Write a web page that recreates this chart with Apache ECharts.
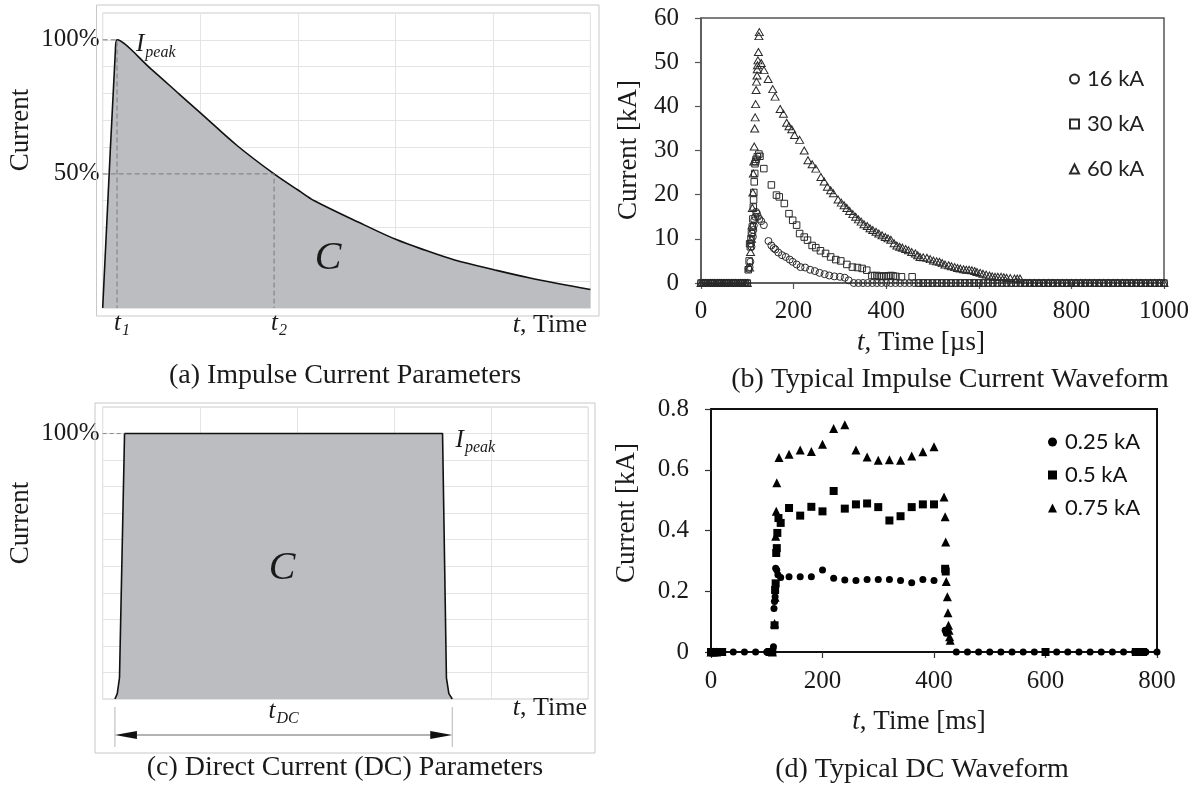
<!DOCTYPE html>
<html><head><meta charset="utf-8">
<script src="https://cdn.jsdelivr.net/npm/echarts@6/dist/echarts.min.js"></script>
<style>html,body{margin:0;padding:0;background:#fff}#c{width:1202px;height:789px}</style>
</head><body><div id="c"></div>
<script>
// ---------------- DATA ----------------
// (a) idealised impulse current shape: [time unit, % of Ipeak]
const impulseShape = [[0,0],[0.13,96],[0.147,100],[0.50,89],[0.79,79.6],[1.01,72.5],[1.38,60.5],[1.757,50],[2.01,43.8],[2.17,40],[2.68,31],[3.01,25.5],[3.31,21.5],[3.6,18],[4.02,14.2],[4.37,11.3],[5,6.9]];
const impulsePeakTime = 0.147;   // t1
const impulseHalfTime = 1.757;   // t2
const impulsePeak = 100, impulseHalf = 50;
// (c) idealised DC shape
const dcShape = [[0.126,0],[0.15,2],[0.173,8],[0.225,100],[3.50,100],[3.54,8],[3.565,2],[3.60,0]];
const dcStart = 0.126, dcEnd = 3.60, dcTopStart = 0.225, dcTopEnd = 3.50;

// (b) measured impulse waveforms [µs, kA]
const preTriggerTimes = [0,5,10,15,20,25,30,35,40,45,50,55,60,65,70,75,80,85,90,95,100];
const imp16 = [[103,3.2],[105,3.6],[106.6,4.8],[108,8.9],[109,8.2],[110.7,11.2],[112,10.5],[113,12],[114,13],[115,14.2],[117,15],[119,16.1],[121,15.7],[123,15],[126,14.5],[130,14],[135.7,13.1],[145.7,9.5],[152,8.5],[157,7.9],[160.7,7.6],[167,6.9],[175,6.3],[183,5.9],[191.5,5.3],[198,4.8],[206.5,4.2],[215,3.6],[225,3.5],[235.6,3],[246,2.7],[256,2.3],[267,2],[277,1.7],[288,1.5],[300,1.4],[310.6,1.2],[319,0.6]];
const imp16ZeroTail = [330,340,350,360,370,380,390,400,410,420,430,440,450,460,470,480,490,500,510,520,530,540,550,560,570,580,590,600,610,620,630,640,650,660,670,680,690,700,710,720,730,740,750,760,770,780,790,800,810,820,830,840,850,860,870,880,890,900,910,920,930,940,950,960,970,980,990,1000];
const imp30 = [[102,3],[104,5],[105,8.9],[106.6,8.2],[108,10],[109,11.2],[110.7,12.7],[112,14.5],[113,17.2],[113.5,18.8],[114,20.5],[115,22.9],[116,24.8],[116.6,27],[118,27.5],[119,28],[121.6,28.6],[125,29.2],[127.4,28.7],[135.7,25.9],[152,22.2],[163,19.9],[169,19.5],[180,18],[190,15.7],[198,14.2],[206.5,13.1],[213,11.2],[223,10.4],[230,9.7],[240,8.5],[248,8],[258,7.3],[269,6.7],[280,5.9],[291,5.3],[302,5],[315,4.2],[327,3.6],[338,3.5],[348,3.3],[358,2.9],[369,1.7],[375,1.6],[380,1.7],[385,1.5],[390,1.5],[395,1.6],[400,1.5],[405,1.6],[410,1.7],[415,1.6],[421,1.5],[433,1.4],[456,1.4]];
const imp30ZeroTail = [470,480,490,500,510,520,530,540,550,560,570,580,590,600,610,620,630,640,650,660,670,680,690,700,710,720,730,740,750,760,770,780,790,800,810,820,830,840,850,860,870,880,890,900,910,920,930,940,950,960,970,980,990,1000];
const imp60 = [[105,3.5],[107,7],[109,10],[110,13],[111,17],[112,20.5],[113,24.8],[114,27.5],[115,30.9],[116,35],[117,37.5],[118,40.5],[119,43.7],[120,45.6],[121,47],[121.5,48.4],[122,49.3],[123,50.4],[124,52.3],[125,55.9],[126,56.8],[130,49.8],[136,48.2],[145,46.2],[155,43.9],[160,42.2],[171,39.4],[178,38.3],[185,36.3],[190,35.5],[196,34.8],[202,33.5],[213,32.4],[223,30],[231,27.8],[240,26.9],[248,25.9],[259,24],[266,23],[273,21.8],[280,21],[286,20.3],[296,18.9],[303,18.2],[309,17.6],[315,17],[321,16.3],[328,15.6],[334,15],[340,14.4],[346,13.9],[352,13.3],[359,12.9],[365,12.4],[371,12],[378,11.6],[384,11.2],[391,10.8],[398,10.4],[404,10.1],[410,9.8],[417,9],[423,8.5],[429,8.2],[435,8],[442,7.7],[448,7.4],[455,7],[463,6.7],[468,6.3],[473,5.9],[480,5.8],[488,5.7],[495,5.4],[502,5.1],[509,4.9],[515,4.8],[521,4.5],[527,4.2],[535,4],[541,3.8],[548,3.6],[554,3.4],[560,3.3],[567,3.1],[573,3],[579,3],[585,2.9],[591,2.7],[596,2.5],[603,2.3],[609,2.1],[616,1.9],[623,1.7],[629,1.5],[635,1.4],[641,1.4],[648,1.4],[654,1.3],[660,1.2],[668,1.1],[677,1],[683,1],[689,1]];
const imp60ZeroTail = [700,710,720,730,740,750,760,770,780,790,800,810,820,830,840,850,860,870,880,890,900,910,920,930,940,950,960,970,980,990,1000];
const impulseNames = ['16 kA','30 kA','60 kA'];

// (d) measured DC waveforms [ms, kA]
const dc025 = [[110,0.005],[112,0.017],[113,0.143],[114,0.166],[115,0.182],[116,0.276],[118,0.27],[120,0.254],[125,0.245],[140,0.248],[160,0.248],[180,0.248],[200,0.27],[220,0.243],[240,0.237],[260,0.235],[280,0.239],[300,0.239],[320,0.239],[340,0.235],[360,0.228],[380,0.239],[400,0.235],[420,0.072],[422,0.062]];
const dc025Zero = [0,3,6,10,14,20,40,60,80,100,105,440,460,480,500,520,540,560,580,600,620,640,660,680,700,720,740,760,780,800];
const dc050 = [[114,0.088],[115,0.204],[116,0.226],[117,0.326],[118,0.342],[119,0.392],[121,0.441],[125,0.425],[140,0.474],[160,0.449],[180,0.478],[200,0.463],[220,0.53],[240,0.472],[260,0.486],[280,0.489],[300,0.477],[320,0.433],[340,0.447],[360,0.477],[380,0.486],[400,0.486],[420,0.274],[421,0.265]];
const dc050Zero = [0,4,8,12,16,20,105,110,600,762,775];
const dc075 = [[114,0.094],[115,0.18],[116,0.381],[117,0.463],[118,0.557],[122,0.64],[140,0.651],[160,0.665],[180,0.66],[200,0.684],[220,0.736],[240,0.748],[260,0.665],[280,0.642],[300,0.631],[320,0.633],[340,0.631],[360,0.645],[380,0.659],[400,0.676],[418,0.51],[420,0.445],[421,0.362],[422,0.232],[424,0.182],[425,0.129],[426,0.088],[427,0.072],[428,0.05],[429,0.039]];
const dc075Zero = [0,5,10,110];
const dcNames = ['0.25 kA','0.5 kA','0.75 kA'];

// axis ticks
const impulseTicks = {min:0, max:1000, step:200};
const impulseYTicks = {min:0, max:60, step:10};
const dcTicks = {min:0, max:800, step:200};
const dcYTicks = {min:0, max:0.8, step:0.2};

// ---------------- CHART ----------------
const serif = '"Liberation Serif","Times New Roman",serif';
const sans = 'Lato,"Open Sans",sans-serif';
const ink = '#1a1a1a';
const chart = echarts.init(document.getElementById('c'));

const withZeros = (pts, zeros) => zeros.map(t => [t, 0]).concat(pts).sort((a,b)=>a[0]-b[0]);

const tickFont = {fontFamily: serif, fontSize: 25, color: ink};
const schemAxisX = gi => ({gridIndex:gi, type:'value', min:0, max:5, interval:1,
  axisLine:{show:false}, axisTick:{show:false}, axisLabel:{show:false},
  splitLine:{show:true, lineStyle:{color:'#e4e4e4', width:1}}});
const schemAxisY = (gi, labels) => ({gridIndex:gi, type:'value', min:0, max:110, interval:10,
  axisLine:{show:false}, axisTick:{show:false},
  axisLabel:Object.assign({margin:3, formatter: v => labels[v] || ''}, tickFont),
  splitLine:{show:true, lineStyle:{color:'#e4e4e4', width:1}}});

const hollow = {color:'rgba(0,0,0,0)', borderColor:'#2a2a2a', borderWidth:1, opacity:1};
const solid = {color:'#000', opacity:1};
const plain = v => String(v);

const option = {
  animation:false,
  backgroundColor:'#fff',
  grid:[
    {left:102.7, top:13, width:487.7, height:295, show:true, borderColor:'#cdcdcd', borderWidth:1},
    {left:701, top:18, width:463, height:265, show:true, borderColor:'#555', borderWidth:1.5},
    {left:102.7, top:407, width:485.5, height:292, show:true, borderColor:'#cdcdcd', borderWidth:1},
    {left:711, top:409, width:446, height:243, show:true, borderColor:'#111', borderWidth:2}
  ],
  xAxis:[
    schemAxisX(0),
    {gridIndex:1, type:'value', min:impulseTicks.min, max:impulseTicks.max, interval:impulseTicks.step,
     axisLine:{onZero:false, lineStyle:{color:'#555', width:1.5}}, axisTick:{length:6, lineStyle:{color:'#555', width:1.2}},
     axisLabel:Object.assign({margin:16, formatter:plain}, tickFont), splitLine:{show:false}},
    schemAxisX(2),
    {gridIndex:3, type:'value', min:dcTicks.min, max:dcTicks.max, interval:dcTicks.step,
     axisLine:{onZero:false, lineStyle:{color:'#111', width:2}}, axisTick:{length:6, lineStyle:{color:'#333', width:1.2}},
     axisLabel:Object.assign({margin:17, formatter:plain}, tickFont), splitLine:{show:false}}
  ],
  yAxis:[
    schemAxisY(0, {100:'100%', 50:'50%'}),
    {gridIndex:1, type:'value', min:impulseYTicks.min, max:impulseYTicks.max, interval:impulseYTicks.step,
     axisLine:{show:true, onZero:false, lineStyle:{color:'#555', width:1.5}}, axisTick:{show:true, length:6, lineStyle:{color:'#555', width:1.2}},
     axisLabel:Object.assign({margin:22, formatter:plain}, tickFont), splitLine:{show:false}},
    schemAxisY(2, {100:'100%'}),
    {gridIndex:3, type:'value', min:dcYTicks.min, max:dcYTicks.max, interval:dcYTicks.step,
     axisLine:{show:true, onZero:false, lineStyle:{color:'#111', width:2}}, axisTick:{show:true, length:6, lineStyle:{color:'#333', width:1.2}},
     axisLabel:Object.assign({margin:22, formatter: v => v === 0 ? '0' : v.toFixed(1)}, tickFont), splitLine:{show:false}}
  ],
  legend:[
    {data:impulseNames, orient:'vertical', left:1064, top:63, itemGap:23, itemWidth:9, itemHeight:9,
     textStyle:{fontFamily:sans, fontSize:22, color:'#222', padding:[0,0,0,3]}, selectedMode:false},
    {data:dcNames, orient:'vertical', left:1043, top:426, itemGap:11, itemWidth:9, itemHeight:9,
     textStyle:{fontFamily:sans, fontSize:22, color:'#111', padding:[0,0,0,3]}, selectedMode:false}
  ],
  series:[
    // (a)
    {type:'line', xAxisIndex:0, yAxisIndex:0, data:impulseShape, symbol:'none', smooth:0.35,
     lineStyle:{color:'#111', width:1.6}, areaStyle:{color:'#bcbdc1', opacity:1}, z:2},
    {type:'line', xAxisIndex:0, yAxisIndex:0, data:[[0,impulsePeak],[impulsePeakTime,impulsePeak],[impulsePeakTime,0]], symbol:'none',
     lineStyle:{color:'#7a7a7a', width:1, type:[5,3]}, z:3},
    {type:'line', xAxisIndex:0, yAxisIndex:0, data:[[0,impulseHalf],[impulseHalfTime,impulseHalf],[impulseHalfTime,0]], symbol:'none',
     lineStyle:{color:'#7a7a7a', width:1, type:[5,3]}, z:3},
    // (c)
    {type:'line', xAxisIndex:2, yAxisIndex:2, data:dcShape, symbol:'none',
     lineStyle:{color:'#111', width:1.6}, areaStyle:{color:'#bcbdc1', opacity:1}, z:2},
    {type:'line', xAxisIndex:2, yAxisIndex:2, data:[[0,100],[dcTopStart,100]], symbol:'none',
     lineStyle:{color:'#8a8a8a', width:1, type:[4,3]}, z:3},
    // (b)
    {name:'16 kA', type:'scatter', xAxisIndex:1, yAxisIndex:1, data:withZeros(imp16, preTriggerTimes.concat(imp16ZeroTail)),
     symbol:'circle', symbolSize:7, itemStyle:hollow, clip:false},
    {name:'30 kA', type:'scatter', xAxisIndex:1, yAxisIndex:1, data:withZeros(imp30, preTriggerTimes.concat(imp30ZeroTail)),
     symbol:'rect', symbolSize:6.5, itemStyle:hollow, clip:false},
    {name:'60 kA', type:'scatter', xAxisIndex:1, yAxisIndex:1, data:withZeros(imp60, preTriggerTimes.concat(imp60ZeroTail)),
     symbol:'triangle', symbolSize:[8,7], itemStyle:hollow, clip:false},
    // (d)
    {name:'0.25 kA', type:'scatter', xAxisIndex:3, yAxisIndex:3, data:withZeros(dc025, dc025Zero),
     symbol:'circle', symbolSize:7, itemStyle:solid, clip:false},
    {name:'0.5 kA', type:'scatter', xAxisIndex:3, yAxisIndex:3, data:withZeros(dc050, dc050Zero),
     symbol:'rect', symbolSize:8, itemStyle:solid, clip:false},
    {name:'0.75 kA', type:'scatter', xAxisIndex:3, yAxisIndex:3, data:withZeros(dc075, dc075Zero),
     symbol:'triangle', symbolSize:9, itemStyle:solid, clip:false}
  ]
};
chart.setOption(option);

// --------------- annotations ---------------
const mctx = document.createElement('canvas').getContext('2d');
function textW(t, font){ mctx.font = font; return mctx.measureText(t).width; }
function txt(x, y, text, font, align, vAlign, extra){
  return Object.assign({type:'text', x:x, y:y, z:100,
    style:{text:text, font:font, fill:ink, align:align||'left', verticalAlign:vAlign||'middle',
           textAlign:align||'left', textVerticalAlign:vAlign||'middle'}}, extra||{});
}
function subscripted(x, y, main, sub, size, subSize, centered){
  const f1 = `italic ${size}px ${serif}`, f2 = `italic ${subSize}px ${serif}`;
  const w1 = textW(main, f1), w2 = textW(sub, f2);
  const x0 = centered ? x - (w1 + w2 + 1) / 2 : x;
  return [txt(x0, y, main, f1), txt(x0 + w1 + 1, y + size * 0.3, sub, f2)];
}
function richTime(x, y, rest, size, align){
  const el = txt(x, y, '{i|t}' + rest, `${size}px ${serif}`, align);
  el.style.rich = {i:{fontStyle:'italic', fontSize:size, fontFamily:serif, fill:ink}};
  return el;
}
const px = (ax, p) => chart.convertToPixel({xAxisIndex:ax, yAxisIndex:ax}, p);

const pk = px(0, [impulsePeakTime, impulsePeak]);
const t1p = px(0, [impulsePeakTime, 0]);
const t2p = px(0, [impulseHalfTime, 0]);
const dcTopEndP = px(2, [dcTopEnd, 100]);
const aL = px(2, [dcStart, 0]), aR = px(2, [dcEnd, 0]);
const arrowY = 735;

const g = [];
// outer light frames of the schematic panels
g.push({type:'rect', shape:{x:96.5, y:5, width:502.5, height:311}, style:{fill:'none', stroke:'#c8c8c8', lineWidth:1}, z:1});
g.push({type:'rect', shape:{x:95, y:403, width:500, height:350}, style:{fill:'none', stroke:'#c8c8c8', lineWidth:1}, z:1});

// (a)
g.push(txt(21, 130, 'Current', `27px ${serif}`, 'center', 'middle', {rotation:Math.PI/2}));
g.push(...subscripted(pk[0] + 19, pk[1] + 5, 'I', 'peak', 25, 16));
g.push(...subscripted(t1p[0] - 3, 323, 't', '1', 25, 16));
g.push(...subscripted(t2p[0] - 3, 323, 't', '2', 25, 16));
g.push(richTime(587, 325, ', Time', 26, 'right'));
g.push(txt(328, 258, 'C', `italic 40px ${serif}`, 'center'));
g.push(txt(345, 376, '(a) Impulse Current Parameters', `28px ${serif}`, 'center'));

// (c)
g.push(txt(21, 523, 'Current', `27px ${serif}`, 'center', 'middle', {rotation:Math.PI/2}));
g.push(...subscripted(dcTopEndP[0] + 13, dcTopEndP[1] + 7, 'I', 'peak', 25, 16));
g.push(txt(282, 568, 'C', `italic 40px ${serif}`, 'center'));
g.push(...subscripted((aL[0] + aR[0]) / 2, 711, 't', 'DC', 25, 16, true));
g.push(richTime(587, 708, ', Time', 26, 'right'));
g.push(txt(345, 768, '(c) Direct Current (DC) Parameters', `28px ${serif}`, 'center'));
// dimension arrow
g.push({type:'line', shape:{x1:aL[0], y1:707, x2:aL[0], y2:747}, style:{stroke:'#b5b5b5', lineWidth:1}, z:50});
g.push({type:'line', shape:{x1:aR[0], y1:707, x2:aR[0], y2:747}, style:{stroke:'#b5b5b5', lineWidth:1}, z:50});
g.push({type:'line', shape:{x1:aL[0] + 10, y1:arrowY, x2:aR[0] - 10, y2:arrowY}, style:{stroke:'#666', lineWidth:1}, z:50});
g.push({type:'polygon', shape:{points:[[aL[0], arrowY],[aL[0] + 22, arrowY - 4],[aL[0] + 22, arrowY + 4]]}, style:{fill:'#111'}, z:51});
g.push({type:'polygon', shape:{points:[[aR[0], arrowY],[aR[0] - 22, arrowY - 4],[aR[0] - 22, arrowY + 4]]}, style:{fill:'#111'}, z:51});

// (b)
g.push(txt(629, 150, 'Current [kA]', `27px ${serif}`, 'center', 'middle', {rotation:Math.PI/2}));
g.push(richTime(921, 343, ', Time [µs]', 27, 'center'));
g.push(txt(950, 380, '(b) Typical Impulse Current Waveform', `28px ${serif}`, 'center'));

// (d)
g.push(txt(627, 513, 'Current [kA]', `27px ${serif}`, 'center', 'middle', {rotation:Math.PI/2}));
g.push(richTime(919, 722, ', Time [ms]', 27, 'center'));
g.push(txt(922, 770, '(d) Typical DC Waveform', `28px ${serif}`, 'center'));

chart.setOption({graphic:{elements:g}});
</script></body></html>
